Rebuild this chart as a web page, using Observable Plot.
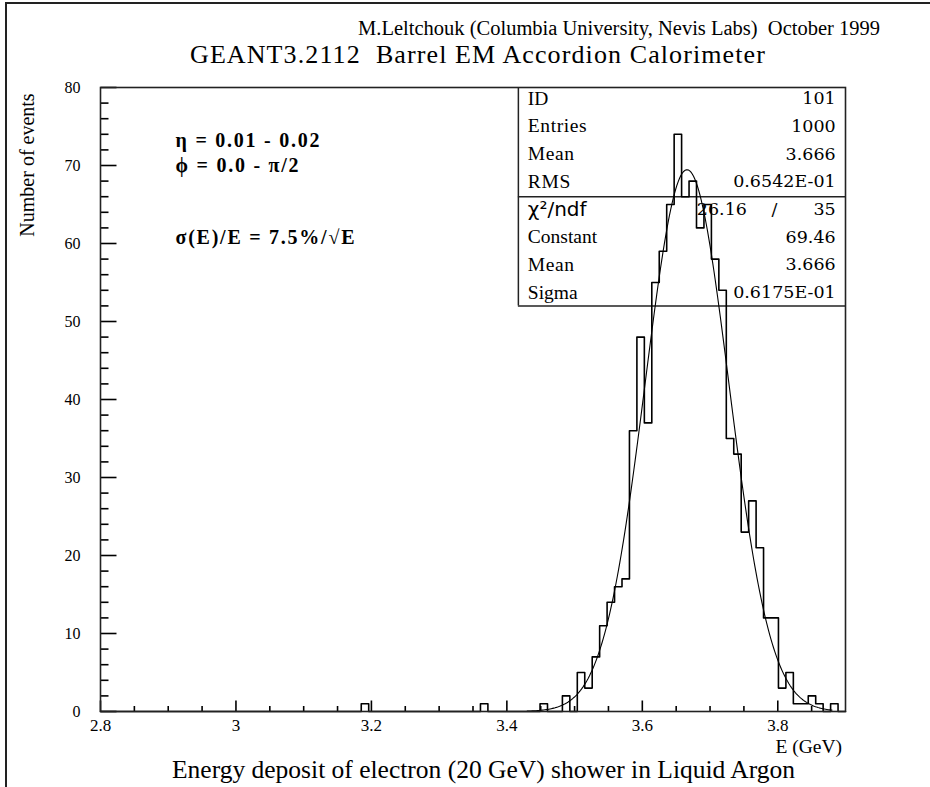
<!DOCTYPE html>
<html>
<head>
<meta charset="utf-8">
<script src="https://cdn.jsdelivr.net/npm/d3@7"></script>
<script src="https://cdn.jsdelivr.net/npm/@observablehq/plot@0.6"></script>
<style>
  body { margin: 0; background: #fff; }
  #wrap { position: relative; width: 930px; height: 787px; overflow: hidden;
          font-family: "Liberation Serif", "DejaVu Serif", serif; color: #000; }
  #wrap svg { position: absolute; left: 0; top: 0; }
  .t { position: absolute; white-space: pre; line-height: 1; }
  .bl { position: absolute; background: #222; }
</style>
</head>
<body>
<div id="wrap">
  <div class="bl" style="left:5px;top:2px;width:1.5px;height:785px;"></div>
  <div class="bl" style="left:5px;top:2px;width:925px;height:1.5px;"></div>
  <div class="t" id="title1" style="right:50px;top:18px;font-size:20.5px;"></div>
  <div class="t" id="title2" style="left:190px;top:42px;font-size:26px;letter-spacing:1.1px;"></div>
  <div class="t" id="ylab" style="left:27px;top:165px;font-size:20px;transform:translate(-50%,-50%) rotate(-90deg);"></div>
  <div class="t" id="xlab" style="right:88px;top:737px;font-size:19.5px;"></div>
  <div class="t" id="caption" style="left:172px;top:757px;font-size:25.5px;"></div>
</div>
<script>
// ---------------- data ----------------
const titleLines = ["M.Leltchouk (Columbia University, Nevis Labs)  October 1999",
                    "GEANT3.2112  Barrel EM Accordion Calorimeter"];
const yTitle = "Number of events";
const xTitle = "E (GeV)";
const captionText = "Energy deposit of electron (20 GeV) shower in Liquid Argon";

// histogram: 100 bins from 2.8, width 0.011; only non-empty bins listed
const binStart = 2.8;
const binWidth = 0.011;
const nBins = 100;
const filledBins = [35, 51, 59, 62, 64, 65, 66, 67, 68, 69, 70, 71, 72, 73, 74, 75, 76, 77, 78, 79,
                    80, 81, 82, 83, 84, 85, 86, 87, 88, 89, 90, 91, 92, 93, 94, 95, 96, 98];
const binCounts  = [1, 1, 1, 2, 5, 3, 7, 11, 14, 16, 17, 36, 48, 37, 55, 59, 65, 74, 66, 68,
                    62, 65, 58, 54, 35, 33, 23, 27, 21, 12, 12, 3, 5, 1, 1, 2, 1, 1];

// gaussian fit parameters (from the stats box)
const fitConstant = 69.46;
const fitMean = 3.666;
const fitSigma = 0.06175;
const fitRange = [3.43, 3.88];

// axis ticks
const xTickValues = [2.8, 3.0, 3.2, 3.4, 3.6, 3.8];
const xTickLabels = ["2.8", "3", "3.2", "3.4", "3.6", "3.8"];
const yTickValues = [0, 10, 20, 30, 40, 50, 60, 70, 80];
const yTickLabels = ["0", "10", "20", "30", "40", "50", "60", "70", "80"];

// annotation text
const notes = ["\u03B7 = 0.01 - 0.02", "\u03D5 = 0.0 - \u03C0/2", "\u03C3(E)/E = 7.5%/\u221AE"];
const noteY = [73.2, 70.0, 60.7];

// stats box
const statLabels = ["ID", "Entries", "Mean", "RMS", "\u03C7\u00B2/ndf", "Constant", "Mean", "Sigma"];
const statValues = ["101", "1000", "3.666", "0.6542E-01", "35", "69.46", "3.666", "0.6175E-01"];
const statBold   = [true, false, false, true, false, false, false, false];
const valueBold  = [false, true, false, true, false, false, false, false];
const chiValue = "26.16";

// ---------------- build ----------------
document.getElementById("title1").textContent = titleLines[0];
document.getElementById("title2").textContent = titleLines[1];
document.getElementById("ylab").textContent = yTitle;
document.getElementById("xlab").textContent = xTitle;
document.getElementById("caption").textContent = captionText;

const counts = new Array(nBins).fill(0);
filledBins.forEach((b, i) => counts[b] = binCounts[i]);
const hist = counts.map((c, i) => ({x: binStart + i * binWidth, y: c}));
hist.push({x: binStart + nBins * binWidth, y: 0});

const fit = d3.range(0, 241).map(k => {
  const e = fitRange[0] + (fitRange[1] - fitRange[0]) * k / 240;
  return {x: e, y: fitConstant * Math.exp(-0.5 * ((e - fitMean) / fitSigma) ** 2)};
});

const xDomain = [2.8, 3.9];
const yDomain = [0, 80];
const xMinor = d3.range(1, 22).map(k => 2.8 + 0.05 * k).filter((v, i) => (i + 1) % 4 !== 0);
const yMinor = d3.range(2, 80, 2).filter(v => v % 10 !== 0);

const W = 930, H = 787, mL = 100, mR = 85, mT = 87, mB = 76;
const frameW = W - mL - mR, frameH = H - mT - mB;
// pixel tick lengths expressed in the other axis' data units
const pxPerY = frameH / (yDomain[1] - yDomain[0]);
const pxPerX = frameW / (xDomain[1] - xDomain[0]);
const xMajLen = 11 / pxPerY, xMinLen = 5.5 / pxPerY;
const yMajLen = 16 / pxPerX, yMinLen = 8 / pxPerX;

const xTickSegs = [
  ...xTickValues.map(v => ({x: v, y1: yDomain[0], y2: yDomain[0] + xMajLen})),
  ...xMinor.map(v => ({x: v, y1: yDomain[0], y2: yDomain[0] + xMinLen}))
];
const yTickSegs = [
  ...yTickValues.map(v => ({y: v, x1: xDomain[0], x2: xDomain[0] + yMajLen})),
  ...yMinor.map(v => ({y: v, x1: xDomain[0], x2: xDomain[0] + yMinLen}))
];

// stats layout (data units)
const boxLeft = 3.417, boxMid = 66, boxBottom = 52;
const labelX = 3.431, valueX = 3.8855;
const rowY = i => (711 - (98 + 27.7 * i)) / 7.8;
const stats = statLabels.map((l, i) => ({label: l, value: statValues[i], y: rowY(i), lb: statBold[i], vb: valueBold[i]}));

const serif = "Liberation Serif";
const chart = Plot.plot({
  width: W,
  height: H,
  marginLeft: mL, marginRight: mR, marginTop: mT, marginBottom: mB,
  style: {fontFamily: serif, background: "transparent", color: "#000"},
  x: {domain: xDomain, label: null},
  y: {domain: yDomain, label: null},
  marks: [
    // tick labels
    Plot.axisX({ticks: xTickValues, tickSize: 0, tickPadding: 7, fontSize: 17,
                tickFormat: (d) => xTickLabels[xTickValues.indexOf(d)], label: null}),
    Plot.axisY({ticks: yTickValues, tickSize: 0, tickPadding: 20, fontSize: 16,
                tickFormat: (d) => yTickLabels[yTickValues.indexOf(d)], label: null}),
    // inward ticks
    Plot.link(xTickSegs, {x1: "x", x2: "x", y1: "y1", y2: "y2", stroke: "#000", strokeWidth: 1.6}),
    Plot.link(yTickSegs, {y1: "y", y2: "y", x1: "x1", x2: "x2", stroke: "#000", strokeWidth: 1.6}),
    // stats box lines
    Plot.ruleX([boxLeft], {y1: boxBottom, y2: yDomain[1], stroke: "#222", strokeWidth: 1.5}),
    Plot.ruleY([boxMid, boxBottom], {x1: boxLeft, x2: xDomain[1], stroke: "#222", strokeWidth: 1.5}),
    // histogram + fit
    Plot.line(hist, {x: "x", y: "y", curve: "step-after", stroke: "#000", strokeWidth: 1.6}),
    Plot.line(fit, {x: "x", y: "y", stroke: "#000", strokeWidth: 1.1}),
    Plot.frame({stroke: "#222", strokeWidth: 1.6}),
    // annotations
    Plot.text(notes, {x: 2.9108, y: (d, i) => noteY[i], text: d => d, textAnchor: "start",
                      fontSize: 20, fontWeight: "bold", fontFamily: serif}),
    // stats text
    Plot.text(stats.filter(d => d.label !== "\u03C7\u00B2/ndf"), {x: labelX, y: "y", text: "label", textAnchor: "start",
                      fontSize: 19.5, fontFamily: serif, fontWeight: d => d.lb ? "bold" : "normal"}),
    Plot.text(stats.filter(d => d.label === "\u03C7\u00B2/ndf"), {x: labelX, y: "y", text: "label", textAnchor: "start",
                      fontSize: 20, fontFamily: "DejaVu Sans", fontWeight: "normal"}),
    Plot.text(stats, {x: valueX, y: "y", text: "value", textAnchor: "end",
                      fontSize: 17.5, fontFamily: "DejaVu Serif", fontWeight: d => d.vb ? "bold" : "normal"}),
    Plot.text([chiValue], {x: 3.7545, y: rowY(4), text: d => d, textAnchor: "end", fontSize: 17.5, fontFamily: "DejaVu Serif"}),
    Plot.text(["/"], {x: 3.795, y: rowY(4), text: d => d, textAnchor: "middle", fontSize: 17.5, fontFamily: "DejaVu Serif"})
  ]
});
// widen the annotation lettering like the original bitmap font
d3.select(chart).selectAll("text")
  .filter(function () { return notes.includes(this.textContent); })
  .style("letter-spacing", "1.75px");
d3.select(chart).selectAll("text")
  .filter(function () { return ["Entries", "Mean", "RMS"].includes(this.textContent); })
  .style("letter-spacing", "0.6px");
document.getElementById("wrap").appendChild(chart);
</script>
</body>
</html>
